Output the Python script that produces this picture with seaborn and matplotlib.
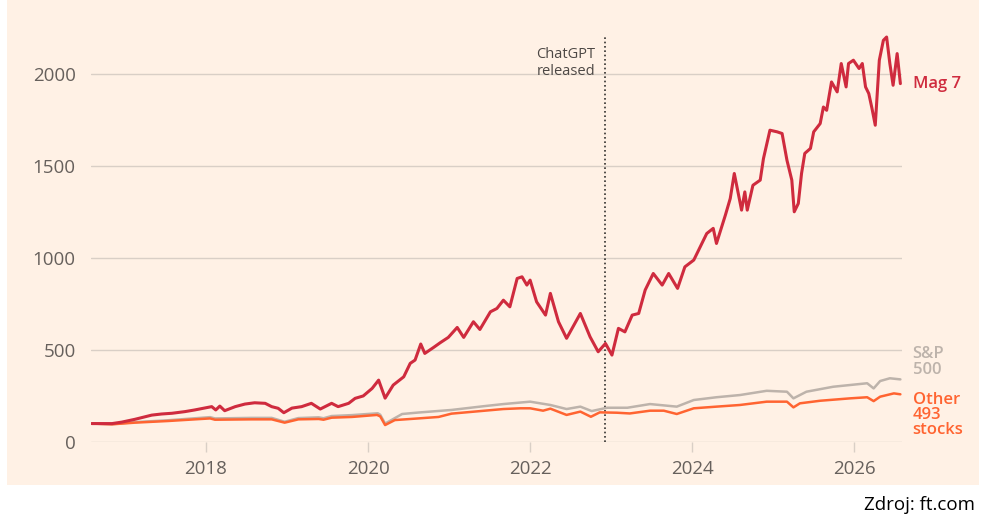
"""
FT-style line chart: Magnificent 7 vs the rest of the S&P 500 (rebased to 100).
"""

import matplotlib
matplotlib.use("Agg")
import matplotlib.pyplot as plt
import pandas as pd
import seaborn as sns
from matplotlib.patches import Rectangle


# --- data (decimal years) ---------------------------------------------------
mag7_years = [
    2016.59, 2016.84, 2016.96, 2017.12, 2017.33, 2017.45, 2017.58, 2017.74, 2017.86, 2018.07,
    2018.12, 2018.17, 2018.23, 2018.36, 2018.48, 2018.60, 2018.73, 2018.81, 2018.89, 2018.96,
    2019.06, 2019.18, 2019.30, 2019.41, 2019.55, 2019.63, 2019.76, 2019.84, 2019.94, 2020.05,
    2020.13, 2020.21, 2020.31, 2020.44, 2020.52, 2020.58, 2020.65, 2020.70, 2020.81, 2020.89,
    2020.99, 2021.10, 2021.18, 2021.30, 2021.38, 2021.51, 2021.59, 2021.67, 2021.75, 2021.84,
    2021.90, 2021.96, 2022.00, 2022.08, 2022.19, 2022.25, 2022.35, 2022.45, 2022.62, 2022.74,
    2022.84, 2022.93, 2023.01, 2023.09, 2023.17, 2023.26, 2023.34, 2023.42, 2023.52, 2023.63,
    2023.71, 2023.82, 2023.91, 2024.02, 2024.10, 2024.18, 2024.26, 2024.30, 2024.41, 2024.47,
    2024.52, 2024.61, 2024.65, 2024.68, 2024.75, 2024.84, 2024.88, 2024.96, 2025.05, 2025.11,
    2025.17, 2025.23, 2025.26, 2025.31, 2025.35, 2025.39, 2025.46, 2025.50, 2025.58, 2025.62,
    2025.66, 2025.72, 2025.79, 2025.84, 2025.90, 2025.93, 2025.99, 2026.06, 2026.10, 2026.14,
    2026.18, 2026.22, 2026.26, 2026.31, 2026.36, 2026.40, 2026.44, 2026.48, 2026.53, 2026.57,
]
mag7_values = [
    100, 100, 108, 123, 146, 152, 156, 165, 174, 192,
    174, 195, 170, 192, 206, 213, 210, 192, 183, 159,
    184, 192, 210, 179, 210, 192, 210, 237, 250, 291,
    336, 238, 309, 354, 427, 445, 532, 481, 514, 539,
    568, 622, 568, 653, 611, 707, 725, 770, 734, 888,
    897, 852, 879, 761, 689, 807, 653, 563, 698, 571,
    490, 535, 472, 617, 598, 689, 698, 825, 915, 852,
    915, 834, 951, 988, 1060, 1132, 1160, 1078, 1232, 1322,
    1458, 1259, 1358, 1259, 1394, 1422, 1539, 1693, 1684, 1675,
    1530, 1422, 1250, 1295, 1458, 1567, 1594, 1684, 1729, 1819,
    1801, 1955, 1901, 2055, 1928, 2055, 2073, 2028, 2055, 1928,
    1892, 1810, 1720, 2073, 2181, 2199, 2055, 1937, 2109, 1946,
]

other_years = [
    2016.59, 2016.84, 2017.12, 2017.53, 2018.05, 2018.11, 2018.56, 2018.81, 2018.97, 2019.14,
    2019.39, 2019.45, 2019.55, 2019.80, 2020.11, 2020.15, 2020.21, 2020.33, 2020.62, 2020.87,
    2021.03, 2021.44, 2021.67, 2021.88, 2022.00, 2022.16, 2022.25, 2022.45, 2022.62, 2022.75,
    2022.86, 2023.07, 2023.23, 2023.48, 2023.65, 2023.81, 2024.02, 2024.30, 2024.59, 2024.92,
    2025.17, 2025.25, 2025.33, 2025.58, 2025.95, 2026.16, 2026.24, 2026.32, 2026.49, 2026.57,
]
other_values = [
    100, 96, 105, 114, 128, 121, 123, 123, 105, 123,
    125, 121, 132, 136, 147, 139, 92, 119, 128, 136,
    154, 170, 179, 183, 183, 170, 181, 147, 165, 137,
    161, 159, 155, 170, 170, 152, 183, 192, 201, 219,
    219, 188, 210, 224, 237, 243, 222, 246, 264, 259,
]

sp500_years = [
    2016.59, 2016.84, 2017.12, 2017.53, 2018.05, 2018.11, 2018.56, 2018.81, 2018.97, 2019.14,
    2019.39, 2019.45, 2019.55, 2019.80, 2020.12, 2020.15, 2020.21, 2020.42, 2020.62, 2021.03,
    2021.44, 2021.67, 2022.00, 2022.25, 2022.45, 2022.62, 2022.76, 2022.95, 2023.20, 2023.48,
    2023.81, 2024.02, 2024.30, 2024.59, 2024.92, 2025.17, 2025.25, 2025.41, 2025.74, 2026.16,
    2026.24, 2026.32, 2026.44, 2026.57,
]
sp500_values = [
    100, 97, 108, 118, 135, 128, 131, 131, 110, 130,
    134, 129, 141, 146, 156, 148, 100, 152, 160, 174,
    195, 206, 219, 201, 179, 192, 168, 186, 186, 206,
    192, 228, 243, 255, 278, 273, 237, 273, 300, 319,
    291, 331, 346, 340,
]

chatgpt_release = 2022.92
y_ticks = [0, 500, 1000, 1500, 2000]
x_ticks = [2018, 2020, 2022, 2024, 2026]

# --- style ---------------------------------------------------------------------
PAPER = "#fff1e5"
GRID = "#d9cfc6"
TEXT_GREY = "#66605c"
MAG7_RED = "#cf2b3e"
OTHER_ORANGE = "#ff6431"
SP_GREY = "#bdb3ab"

W, H = 994, 521


def make_frame(years, values, name):
    """Long-format frame for one series."""
    assert len(years) == len(values), name
    return pd.DataFrame({"year": years, "value": values, "series": name})


def main():
    sns.set_theme(style="white")
    plt.rcParams["font.family"] = ["Open Sans", "DejaVu Sans"]

    fig = plt.figure(figsize=(W / 100, H / 100), dpi=100)
    fig.patch.set_facecolor("white")
    # peach paper panel
    fig.patches.append(Rectangle((7 / W, 1 - 485 / H), (979 - 7) / W, 485 / H,
                                 transform=fig.transFigure, facecolor=PAPER,
                                 edgecolor="none", zorder=-10))

    ax = fig.add_axes([91 / W, 1 - 442 / H, (902 - 91) / W, 442 / H])
    ax.set_facecolor("none")

    sp = make_frame(sp500_years, sp500_values, "S&P 500")
    other = make_frame(other_years, other_values, "Other 493 stocks")
    mag7 = make_frame(mag7_years, mag7_values, "Mag 7")

    sns.lineplot(data=sp, x="year", y="value", color=SP_GREY, linewidth=1.8, ax=ax, zorder=3)
    sns.lineplot(data=other, x="year", y="value", color=OTHER_ORANGE, linewidth=1.8, ax=ax, zorder=4)
    sns.lineplot(data=mag7, x="year", y="value", color=MAG7_RED, linewidth=2.2, ax=ax, zorder=5)

    ax.set_xlim(2016.58, 2026.59)
    ax.set_ylim(0, 2400)
    ax.set_xticks(x_ticks)
    ax.set_yticks(y_ticks)
    ax.set_xlabel("")
    ax.set_ylabel("")
    for s in ax.spines.values():
        s.set_visible(False)
    ax.grid(axis="y", color=GRID, linewidth=1, zorder=1)
    ax.grid(axis="x", visible=False)
    ax.tick_params(axis="x", length=7, width=1, color=GRID, pad=6,
                   labelsize=13.5, labelcolor=TEXT_GREY, bottom=True)
    ax.tick_params(axis="y", length=0, pad=11, labelsize=13.5, labelcolor=TEXT_GREY)

    # ChatGPT marker
    ax.vlines(chatgpt_release, 0, 2200, colors="#33302e", linestyles=(0, (1, 1.6)),
              linewidth=1.2, zorder=2)
    ax.annotate("ChatGPT\nreleased", xy=(chatgpt_release, 2058), xytext=(-7, 0),
                textcoords="offset points", ha="right", va="center",
                fontsize=10.5, color="#4d4845", linespacing=1.25)

    # end labels
    lab_x = 2026.72
    ax.text(lab_x, 1942, "Mag 7", color=MAG7_RED, fontsize=12, fontweight="semibold",
            va="center", ha="left", clip_on=False)
    ax.text(lab_x, 434, "S&P\n500", color=SP_GREY, fontsize=12, fontweight="semibold",
            va="center", ha="left", linespacing=0.95, clip_on=False)
    ax.text(lab_x, 147, "Other\n493\nstocks", color=OTHER_ORANGE, fontsize=12,
            fontweight="semibold", va="center", ha="left", linespacing=0.95, clip_on=False)

    fig.text(975 / W, 1 - 505 / H, "Zdroj: ft.com", ha="right", va="center",
             fontsize=13.5, color="black")

    fig.savefig("out.png", dpi=100, facecolor=fig.get_facecolor())


if __name__ == "__main__":
    main()
